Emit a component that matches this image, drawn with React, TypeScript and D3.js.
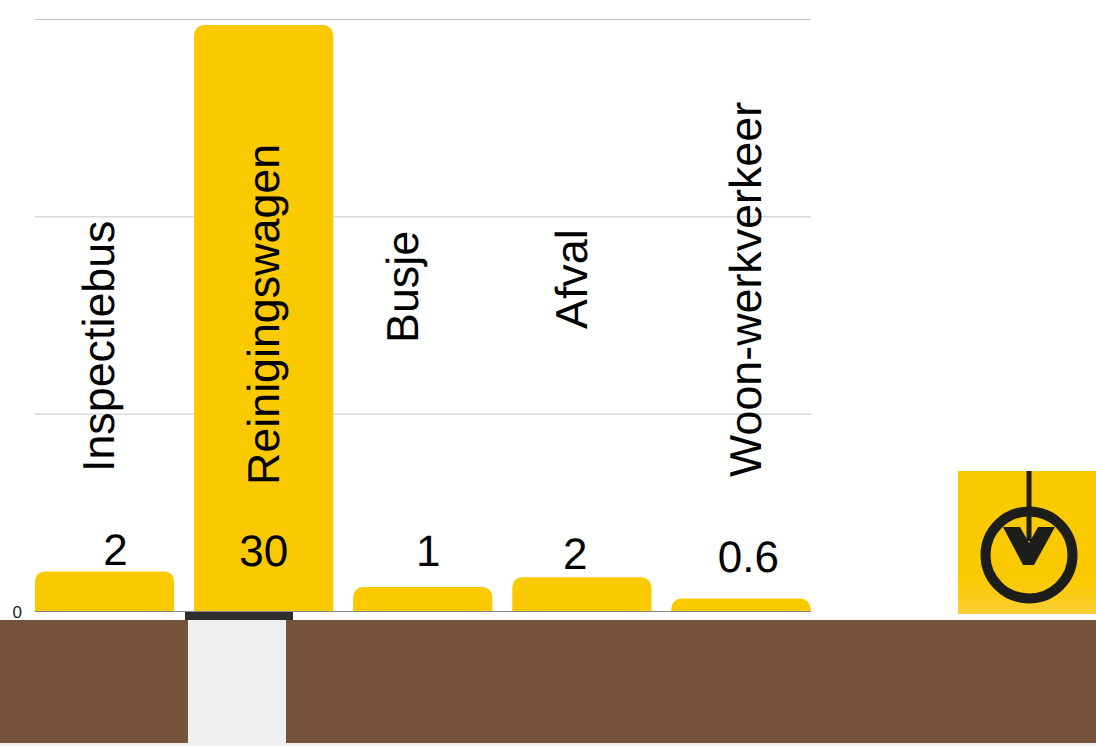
import React, { useEffect, useRef } from 'react';
import * as d3 from 'd3';

const categories = ['Inspectiebus', 'Reinigingswagen', 'Busje', 'Afval', 'Woon-werkverkeer'];
const values = [2.03, 29.72, 1.24, 1.73, 0.66];
const valueLabels = ['2', '30', '1', '2', '0.6'];
const gridValues = [10, 20, 30];
const axisTicks = [0];

const FONT = '"Liberation Sans", Arial, sans-serif';
const YELLOW = '#fbc900';
const BROWN = '#75543b';
const PALE = '#eeeff1';
const INK = '#1d1d1b';

// Hand placement of the labels, they do not follow the bars exactly
const labelShiftX = [11, 0, 5.5, -6.5, 7.5];
const labelGapY = [6, -20, 21, 8.5, 26.5];
const categoryBaseline = [114, 279, 418, 587, 761];
const categoryBottom = [472, 485, 343, 329, 477];

const App: React.FC = () => {
  const svgRef = useRef<SVGSVGElement>(null);

  useEffect(() => {
    if (!svgRef.current) return;

    const svg = d3.select(svgRef.current);
    svg.selectAll('*').remove();

    const xScale = d3.scaleBand()
      .domain(categories)
      .range([25, 820.5])
      .paddingInner(0.125)
      .paddingOuter(0.0625);

    const yScale = d3.scaleLinear()
      .domain([0, 30])
      .range([611.5, 19.5]);

    // Gridlines
    svg.selectAll('line.grid')
      .data(gridValues)
      .enter()
      .append('line')
      .attr('class', 'grid')
      .attr('x1', 35)
      .attr('x2', 811)
      .attr('y1', d => yScale(d))
      .attr('y2', d => yScale(d))
      .attr('stroke', '#c6c6c6')
      .attr('stroke-width', 1);

    // Bars, only the top corners are rounded
    const radius = 10;
    svg.selectAll('path.bar')
      .data(values)
      .enter()
      .append('path')
      .attr('class', 'bar')
      .attr('fill', YELLOW)
      .attr('d', (d, i) => {
        const x0 = xScale(categories[i]) || 0;
        const x1 = x0 + xScale.bandwidth();
        const y0 = yScale(d);
        const y1 = yScale(0);
        const r = Math.min(radius, y1 - y0);
        return `M${x0},${y1}L${x0},${y0 + r}A${r},${r} 0 0 1 ${x0 + r},${y0}` +
          `L${x1 - r},${y0}A${r},${r} 0 0 1 ${x1},${y0 + r}L${x1},${y1}Z`;
      });

    // Baseline and zero tick
    svg.append('line')
      .attr('x1', 35)
      .attr('x2', 811)
      .attr('y1', yScale(0))
      .attr('y2', yScale(0))
      .attr('stroke', '#888888')
      .attr('stroke-width', 1);

    svg.selectAll('text.tick')
      .data(axisTicks)
      .enter()
      .append('text')
      .attr('class', 'tick')
      .attr('x', 22)
      .attr('y', d => yScale(d) + 6)
      .attr('text-anchor', 'end')
      .attr('font-family', FONT)
      .attr('font-size', 17)
      .attr('fill', '#222222')
      .text(d => d);

    // Value labels
    svg.selectAll('text.value')
      .data(valueLabels)
      .enter()
      .append('text')
      .attr('class', 'value')
      .attr('x', (d, i) => (xScale(categories[i]) || 0) + xScale.bandwidth() / 2 + labelShiftX[i])
      .attr('y', (d, i) => i === 1 ? 565.5 : yScale(values[i]) - labelGapY[i])
      .attr('text-anchor', 'middle')
      .attr('font-family', FONT)
      .attr('font-size', 44)
      .attr('text-rendering', 'geometricPrecision')
      .attr('fill', '#000000')
      .text(d => d);

    // Rotated category labels
    svg.selectAll('text.category')
      .data(categories)
      .enter()
      .append('text')
      .attr('class', 'category')
      .attr('transform', (d, i) => `translate(${categoryBaseline[i]},${categoryBottom[i]}) rotate(-90)`)
      .attr('font-family', FONT)
      .attr('font-size', 44.8)
      .attr('text-rendering', 'geometricPrecision')
      .attr('fill', '#000000')
      .text(d => d);

    // Ground strip with the gap under the big bar
    svg.append('rect').attr('x', 0).attr('y', 743).attr('width', 1096).attr('height', 3).attr('fill', PALE);
    svg.append('rect').attr('x', 0).attr('y', 620).attr('width', 1096).attr('height', 123).attr('fill', BROWN);
    svg.append('rect').attr('x', 188).attr('y', 620).attr('width', 98).attr('height', 126).attr('fill', PALE);
    svg.append('rect').attr('x', 185).attr('y', 612).attr('width', 108).attr('height', 8).attr('fill', '#2e2e2e');

    // Logo
    const defs = svg.append('defs');
    const grad = defs.append('linearGradient')
      .attr('id', 'logoFill')
      .attr('x1', 0).attr('y1', 0).attr('x2', 0).attr('y2', 1);
    grad.append('stop').attr('offset', '0.75').attr('stop-color', YELLOW);
    grad.append('stop').attr('offset', '1').attr('stop-color', '#fbcf35');

    const logo = svg.append('g');
    logo.append('rect').attr('x', 958).attr('y', 471).attr('width', 138).attr('height', 143).attr('fill', 'url(#logoFill)');
    logo.append('circle').attr('cx', 1029).attr('cy', 555).attr('r', 43.5)
      .attr('fill', 'none').attr('stroke', INK).attr('stroke-width', 10);
    logo.append('path')
      .attr('d', 'M1003,527L1020,527L1029,543L1038,527L1055,527L1034,565L1023,565Z')
      .attr('fill', INK);
    logo.append('line').attr('x1', 1029).attr('x2', 1029).attr('y1', 471).attr('y2', 541)
      .attr('stroke', INK).attr('stroke-width', 5);
  }, []);

  return (
    <svg
      ref={svgRef}
      width={1096}
      height={746}
      style={{ position: 'absolute', left: 0, top: 0, display: 'block' }}
    />
  );
};

export default App;
